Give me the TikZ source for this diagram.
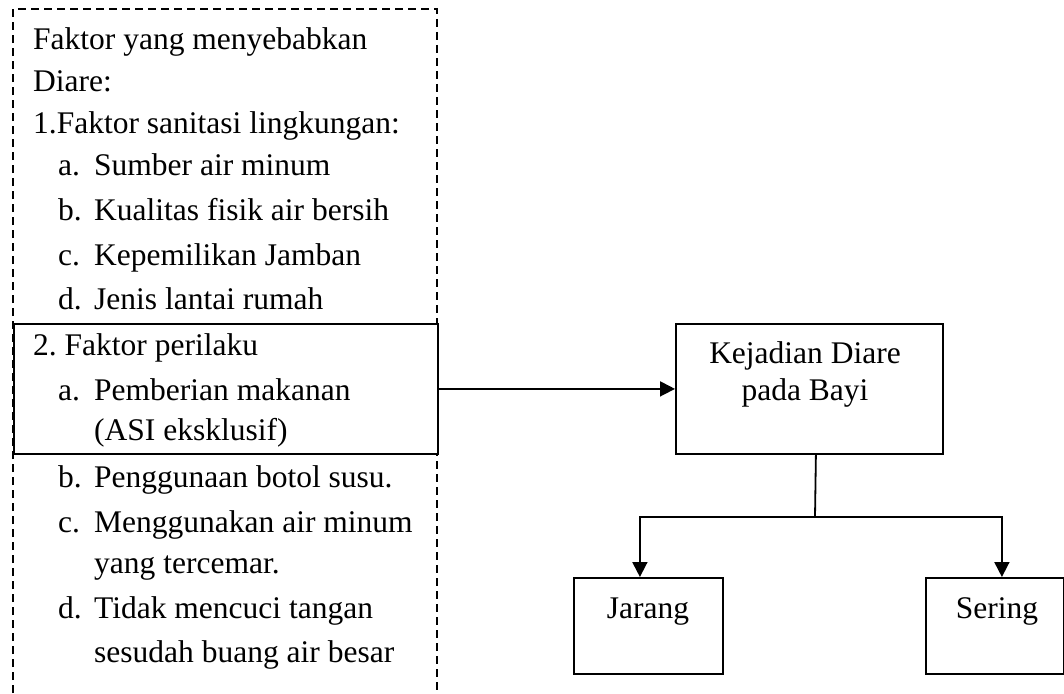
\documentclass[tikz,border=0pt]{standalone}
\usepackage{fontspec}
\setmainfont{Liberation Serif}
\usetikzlibrary{arrows.meta,calc}
\frenchspacing
\begin{document}
\begin{tikzpicture}[x=1pt,y=-1pt,
  txt/.style={anchor=base west,inner sep=0pt,font=\fontsize{31.5}{40}\selectfont},
  ctxt/.style={anchor=base,inner sep=0pt,font=\fontsize{31.5}{40}\selectfont},
  box/.style={draw,line width=1.8pt,rectangle,inner sep=0pt},
  frame/.style={line width=1.6pt,dash pattern=on 8pt off 5pt},
  conn/.style={line width=1.8pt},
  arr/.style={line width=1.8pt,-{Triangle[length=15pt,width=15pt]}}]
\useasboundingbox (0,0) rectangle (1064,693);
% dashed outer frame (open at the bottom)
\draw[frame] (13,693) -- (13,9) -- (437,9) -- (437,693);
% solid box around factor 2 a
\node[box,fill=white,minimum width=424pt,minimum height=130pt,anchor=north west] (f2) at (13,323) {};
% left texts
\node[txt] (t1) at (33,49) {Faktor yang menyebabkan};
\node[txt] (t2) at (33,91) {Diare:};
\node[txt] (t3) at (33,133) {1.Faktor sanitasi lingkungan:};
\node[txt] (t4) at (58,175) {\makebox[36pt][l]{a.}Sumber air minum};
\node[txt] (t5) at (58,220) {\makebox[36pt][l]{b.}Kualitas fisik air bersih};
\node[txt] (t6) at (58,265) {\makebox[36pt][l]{c.}Kepemilikan Jamban};
\node[txt] (t7) at (58,309) {\makebox[36pt][l]{d.}Jenis lantai rumah};
\node[txt] (t8) at (33,355) {2. Faktor perilaku};
\node[txt] (t9) at (58,400) {\makebox[36pt][l]{a.}Pemberian makanan};
\node[txt] (t10) at (94,440) {(ASI eksklusif)};
\node[txt] (t11) at (58,487) {\makebox[36pt][l]{b.}Penggunaan botol susu.};
\node[txt] (t12) at (58,532) {\makebox[36pt][l]{c.}Menggunakan air minum};
\node[txt] (t13) at (94,573) {yang tercemar.};
\node[txt] (t14) at (58,618) {\makebox[36pt][l]{d.}Tidak mencuci tangan};
\node[txt] (t15) at (94,662) {sesudah buang air besar};
% right side boxes
\node[box,minimum width=267pt,minimum height=130pt,anchor=north west] (kej) at (675,323) {};
\node[ctxt] (kej1) at (805,363) {Kejadian Diare};
\node[ctxt] (kej2) at (805,400) {pada Bayi};
\node[box,minimum width=149pt,minimum height=96pt,anchor=north west] (jar) at (573,577) {};
\node[ctxt] (jart) at (648,618) {Jarang};
\node[box,minimum width=138pt,minimum height=96pt,anchor=north west] (ser) at (925,577) {};
\node[ctxt] (sert) at (997,618) {Sering};
% connectors
\draw[arr] (f2.east) -- (kej.west);
\coordinate (split) at (815,517);
\draw[conn] ([xshift=6.5pt]kej.south) -- (split);
\draw[arr] (split) -| ([xshift=-8.5pt]jar.north);
\draw[arr] (split) -| ([xshift=7pt]ser.north);
\end{tikzpicture}
\end{document}
